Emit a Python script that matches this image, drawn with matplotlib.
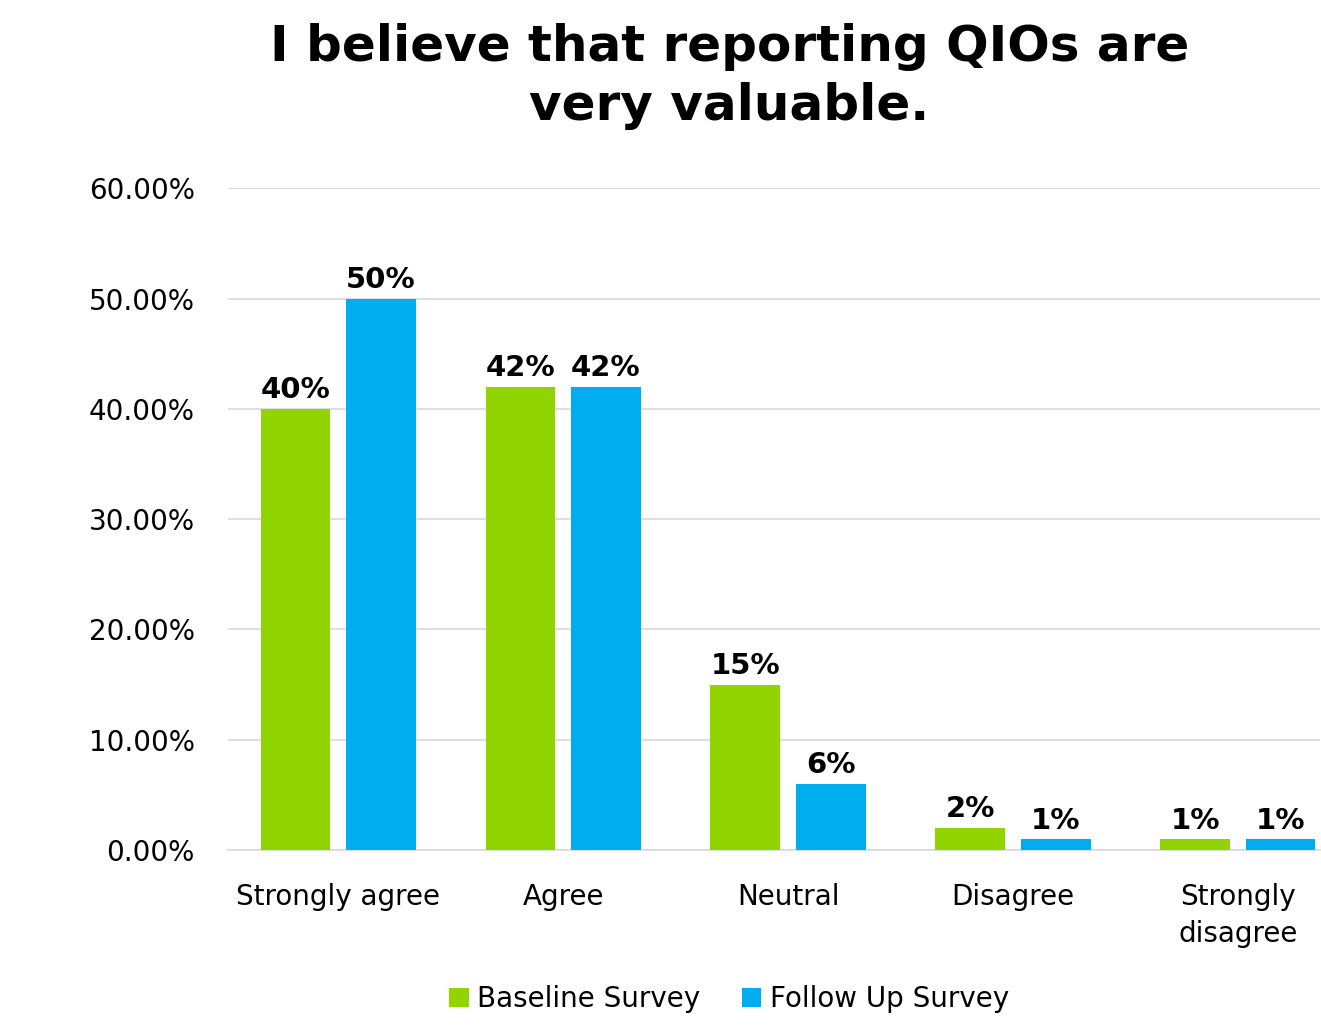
import numpy as np
import matplotlib
matplotlib.use('Agg')
from matplotlib import pyplot as plt
from matplotlib.ticker import FuncFormatter

categories = ['Strongly agree', 'Agree', 'Neutral', 'Disagree', 'Strongly\ndisagree']
baseline = [0.40, 0.42, 0.15, 0.02, 0.01]
follow_up = [0.50, 0.42, 0.06, 0.01, 0.01]
series_names = ['Baseline Survey', 'Follow Up Survey']
green = '#92D400'
blue = '#00AEEF'

fig = plt.figure(figsize=(13.21, 10.29), dpi=100)
ax = fig.add_axes([0.1726, 0.174, 0.8264, 0.643])

x = np.arange(len(categories))
w = 0.31
off = 0.19
b1 = ax.bar(x - off, baseline, w, color=green, label=series_names[0], zorder=3)
b2 = ax.bar(x + off, follow_up, w, color=blue, label=series_names[1], zorder=3)

for bars, vals in ((b1, baseline), (b2, follow_up)):
    for r, v in zip(bars, vals):
        ax.text(r.get_x() + r.get_width() / 2, v + 0.004, '%d%%' % round(v * 100),
                ha='center', va='bottom', fontsize=21, fontweight='bold')

ax.set_ylim(0, 0.6)
ax.set_xlim(-0.49, 4.364)
ax.set_yticks(np.arange(0, 0.61, 0.1))
ax.yaxis.set_major_formatter(FuncFormatter(lambda v, p: '%.2f%%' % (v * 100)))
ax.set_xticks(x)
ax.set_xticklabels(categories, linespacing=1.4)
ax.tick_params(axis='both', length=0, labelsize=20, colors='black')
ax.tick_params(axis='y', pad=24)
ax.tick_params(axis='x', pad=24)
ax.grid(axis='y', color='#D9D9D9', linewidth=1.2, zorder=0)
for s in ['top', 'right', 'left']:
    ax.spines[s].set_visible(False)
ax.spines['bottom'].set_color('#D9D9D9')
ax.spines['bottom'].set_linewidth(1.2)

fig.suptitle('I believe that reporting QIOs are\nvery valuable.', x=0.552, y=0.978,
             fontsize=36, fontweight='bold', linespacing=1.3)
fig.legend(handles=[b1, b2], loc='center', bbox_to_anchor=(0.552, 0.029), ncol=2,
           frameon=False, fontsize=20, handlelength=0.7, handleheight=0.7,
           handletextpad=0.3, columnspacing=1.5)

fig.savefig('out.png', dpi=100)
